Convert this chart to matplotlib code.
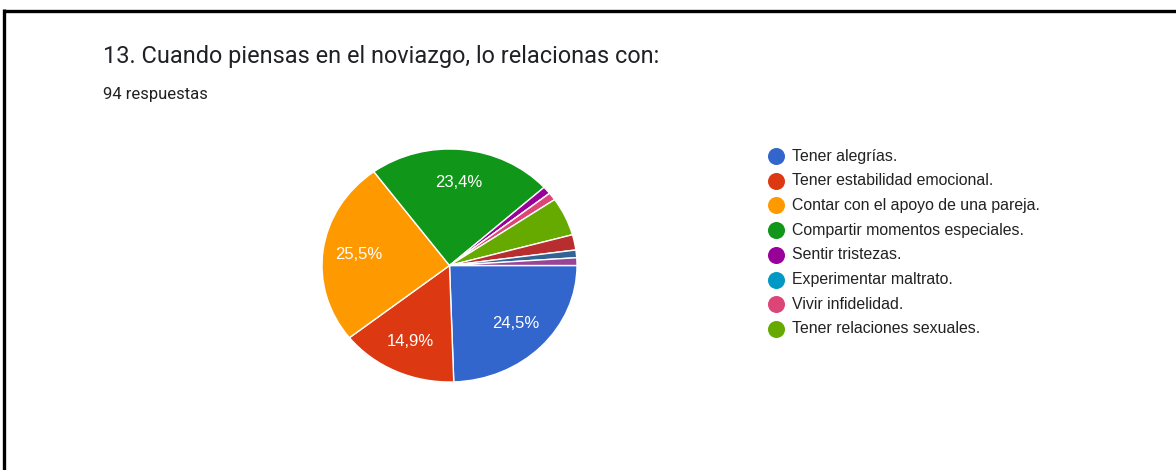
import matplotlib.pyplot as plt

# responses per option (94 in total); the last three are on the legend's 2nd page
labels = ['Tener alegrías.', 'Tener estabilidad emocional.',
          'Contar con el apoyo de una pareja.', 'Compartir momentos especiales.',
          'Sentir tristezas.', 'Experimentar maltrato.', 'Vivir infidelidad.',
          'Tener relaciones sexuales.', 'Otra opción 1', 'Otra opción 2',
          'Otra opción 3']
counts = [23, 14, 24, 22, 1, 0, 1, 5, 2, 1, 1]
colors = ['#3366cc', '#dc3912', '#ff9900', '#109618', '#990099', '#0099c6',
          '#dd4477', '#66aa00', '#b82e2e', '#316395', '#994499']
legend_shown = 8

W, H = 1176, 470
fig = plt.figure(figsize=(W / 100, H / 100), dpi=100)

# overlay axes in pixel coordinates for the frame, texts and legend
ov = fig.add_axes([0, 0, 1, 1])
ov.set_xlim(0, W)
ov.set_ylim(H, 0)
ov.axis('off')
ov.plot([3.5, W], [10.5, 10.5], color='black', lw=2.4, solid_capstyle='butt')
ov.plot([3.8, 3.8], [9.3, H], color='black', lw=2.4, solid_capstyle='butt')

ov.text(103, 57, '13. Cuando piensas en el noviazgo, lo relacionas con:',
        fontsize=16.9, family='Roboto', color='#202124', va='center')
ov.text(103, 95, '94 respuestas', fontsize=12, family='Roboto',
        color='#202124', va='center')

# pie (slightly stretched horizontally like the screenshot)
cx, cy, rx, ry = 449.5, 265.5, 127.5, 116.5
pax = fig.add_axes([(cx - rx) / W, (H - cy - ry) / H, 2 * rx / W, 2 * ry / H])


def fmt(p):
    return ('%.1f%%' % p).replace('.', ',') if p >= 10 else ''


wedges, _, autotexts = pax.pie(counts, colors=colors, startangle=0,
                               counterclock=False, autopct=fmt,
                               pctdistance=0.72,
                               wedgeprops=dict(edgecolor='white', linewidth=1),
                               textprops=dict(color='white', fontsize=12,
                                              family='Liberation Sans'))
pax.set_aspect('auto')
pax.set_xlim(-1, 1)
pax.set_ylim(-1, 1)
pax.axis('off')

# legend
for i in range(legend_shown):
    y = 156 + i * 24.7
    ov.scatter(776, y, s=150, color=colors[i], linewidths=0)
    ov.text(792, y, labels[i], fontsize=11.4, family='Liberation Sans',
            color='#222222', va='center')

fig.savefig('out.png', dpi=100)
